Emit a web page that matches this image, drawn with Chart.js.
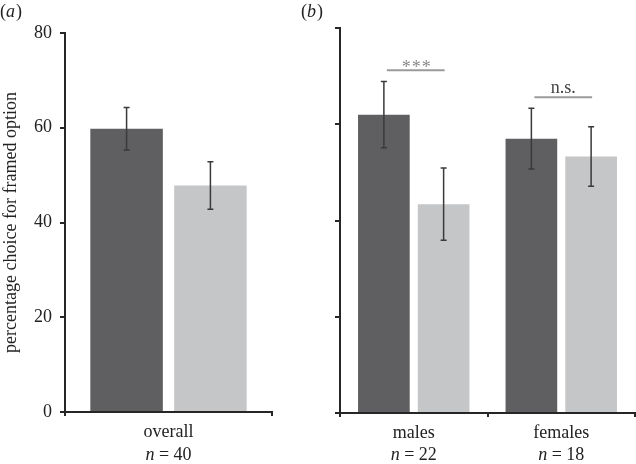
<!DOCTYPE html>
<html>
<head>
<meta charset="utf-8">
<script src="https://cdn.jsdelivr.net/npm/chart.js@4.4.1/dist/chart.umd.min.js"></script>
<style>
  html, body { margin: 0; padding: 0; background: #fff; }
  #wrap { position: relative; width: 636px; height: 464px; overflow: hidden; background: #fff; }
  #chartA { position: absolute; left: 0; top: 0; }
  #chartB { position: absolute; left: 300px; top: 0; }
</style>
</head>
<body>
<div id="wrap">
  <canvas id="chartA" width="300" height="464"></canvas>
  <canvas id="chartB" width="336" height="464"></canvas>
</div>
<script>
// panel (a): everyone
const overallLabels = ['overall'];
const overallN = [40];
const overallDark = [59.8];
const overallDarkErr = [4.5];
const overallLight = [47.8];
const overallLightErr = [5.0];

// panel (b): split by sex
const sexLabels = ['males', 'females'];
const sexN = [22, 18];
const sexDark = [62.0, 57.0];
const sexDarkErr = [6.9, 6.3];
const sexLight = [43.4, 53.3];
const sexLightErr = [7.5, 6.2];

const sigLabels = ['***', 'n.s.'];
const sigLevels = [71.2, 65.6];

const yTicks = [0, 20, 40, 60, 80];

const serif = "'Liberation Serif', 'Times New Roman', serif";
const axisColor = '#262626';
const darkColor = '#5f5f61';
const lightColor = '#c5c6c8';

const errorBars = {
  id: 'errorBars',
  afterDatasetsDraw(chart) {
    const { ctx } = chart;
    const y = chart.scales.y;
    ctx.save();
    ctx.strokeStyle = '#3a3a3a';
    ctx.lineWidth = 1.5;
    chart.data.datasets.forEach((ds, i) => {
      chart.getDatasetMeta(i).data.forEach((bar, j) => {
        const top = y.getPixelForValue(ds.data[j] + ds.errors[j]);
        const bot = y.getPixelForValue(ds.data[j] - ds.errors[j]);
        ctx.beginPath();
        ctx.moveTo(bar.x, top);
        ctx.lineTo(bar.x, bot);
        ctx.moveTo(bar.x - 3, top);
        ctx.lineTo(bar.x + 3, top);
        ctx.moveTo(bar.x - 3, bot);
        ctx.lineTo(bar.x + 3, bot);
        ctx.stroke();
      });
    });
    ctx.restore();
  },
};

// second line under each category: italic n, then " = 40"
const sampleLine = {
  id: 'sampleLine',
  afterDraw(chart, args, opts) {
    const { ctx } = chart;
    const x = chart.scales.x;
    const ital = 'italic 18px ' + serif;
    const norm = '18px ' + serif;
    ctx.save();
    ctx.fillStyle = '#222';
    ctx.textBaseline = 'middle';
    ctx.textAlign = 'left';
    opts.n.forEach((n, i) => {
      const cx = x.getPixelForValue(i);
      const rest = ' = ' + n;
      ctx.font = ital;
      const w1 = ctx.measureText('n').width;
      ctx.font = norm;
      const w2 = ctx.measureText(rest).width;
      const x0 = cx - (w1 + w2) / 2;
      ctx.font = ital;
      ctx.fillText('n', x0, opts.y);
      ctx.font = norm;
      ctx.fillText(rest, x0 + w1, opts.y);
    });
    ctx.restore();
  },
};

const panelLabel = {
  id: 'panelLabel',
  afterDraw(chart, args, opts) {
    const { ctx } = chart;
    ctx.save();
    ctx.fillStyle = '#222';
    ctx.textBaseline = 'middle';
    ctx.textAlign = 'left';
    ctx.font = '18px ' + serif;
    let x = opts.x;
    ctx.fillText('(', x, 12);
    x += ctx.measureText('(').width;
    ctx.font = 'italic 18px ' + serif;
    ctx.fillText(opts.letter, x, 12);
    x += ctx.measureText(opts.letter).width + 1;
    ctx.font = '18px ' + serif;
    ctx.fillText(')', x, 12);
    ctx.restore();
  },
};

const significance = {
  id: 'significance',
  afterDraw(chart) {
    const { ctx } = chart;
    const y = chart.scales.y;
    const m0 = chart.getDatasetMeta(0).data;
    const m1 = chart.getDatasetMeta(1).data;
    ctx.save();
    sigLabels.forEach((label, i) => {
      const ly = y.getPixelForValue(sigLevels[i]);
      const x0 = m0[i].x + 3;
      const x1 = m1[i].x + 1;
      ctx.strokeStyle = '#9a9a9a';
      ctx.lineWidth = 2;
      ctx.beginPath();
      ctx.moveTo(x0, ly);
      ctx.lineTo(x1, ly);
      ctx.stroke();
      ctx.textAlign = 'center';
      ctx.textBaseline = 'alphabetic';
      ctx.font = '18px ' + serif;
      if (label === '***') {
        ctx.fillStyle = '#8a8a8a';
        ctx.letterSpacing = '1px';
        ctx.fillText(label, (x0 + x1) / 2 + 1, ly + 3);
        ctx.letterSpacing = '0px';
      } else {
        ctx.fillStyle = '#444';
        ctx.fillText(label, (x0 + x1) / 2, ly - 4);
      }
    });
    ctx.restore();
  },
};

const yScale = (showLabels, width) => ({
  min: 0,
  max: 80,
  afterBuildTicks: (scale) => {
    scale.ticks = yTicks.map((v) => ({ value: v }));
  },
  grid: { drawOnChartArea: false, drawTicks: true, tickLength: 5, color: axisColor, lineWidth: 2 },
  border: { display: true, color: axisColor, width: 2 },
  ticks: { display: showLabels, font: { family: serif, size: 18 }, color: '#222', padding: 8 },
  title: {
    display: showLabels,
    text: 'percentage choice for framed option',
    font: { family: serif, size: 18, lineHeight: 1.2 },
    color: '#222',
    padding: 0,
  },
  afterFit: (scale) => {
    scale.width = width;
  },
});

const xScale = (height) => ({
  grid: { drawOnChartArea: false, drawTicks: true, tickLength: 4, color: axisColor, lineWidth: 2, offset: true },
  border: { display: true, color: axisColor, width: 2 },
  ticks: { font: { family: serif, size: 18, lineHeight: 1.25 }, color: '#222', padding: 5, maxRotation: 0 },
  afterFit: (scale) => {
    scale.height = height;
  },
});

const makeBars = (labels, dark, darkErr, light, lightErr) => ({
  labels: labels,
  datasets: [
    { label: 'option 1', data: dark, errors: darkErr, backgroundColor: darkColor, categoryPercentage: 0.81, barPercentage: 0.865 },
    { label: 'option 2', data: light, errors: lightErr, backgroundColor: lightColor, categoryPercentage: 0.81, barPercentage: 0.865 },
  ],
});

new Chart(document.querySelector('#chartA'), {
  type: 'bar',
  data: makeBars(overallLabels, overallDark, overallDarkErr, overallLight, overallLightErr),
  options: {
    responsive: false,
    animation: false,
    layout: { padding: { top: 33, right: 28, left: 0, bottom: 0 } },
    scales: { x: xScale(52), y: yScale(true, 65) },
    plugins: {
      legend: { display: false },
      tooltip: { enabled: false },
      sampleLine: { n: overallN, y: 455 },
      panelLabel: { letter: 'a', x: 0 },
    },
  },
  plugins: [errorBars, sampleLine, panelLabel],
});

new Chart(document.querySelector('#chartB'), {
  type: 'bar',
  data: makeBars(sexLabels, sexDark, sexDarkErr, sexLight, sexLightErr),
  options: {
    responsive: false,
    animation: false,
    layout: { padding: { top: 28, right: 1, left: 0, bottom: 0 } },
    scales: { x: xScale(51), y: yScale(false, 40) },
    plugins: {
      legend: { display: false },
      tooltip: { enabled: false },
      sampleLine: { n: sexN, y: 455 },
      panelLabel: { letter: 'b', x: 1 },
    },
  },
  plugins: [errorBars, sampleLine, panelLabel, significance],
});
</script>
</body>
</html>
